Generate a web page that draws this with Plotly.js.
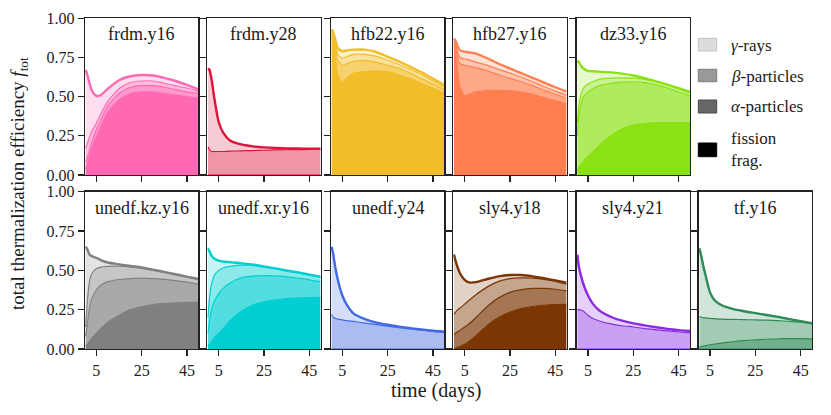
<!DOCTYPE html>
<html><head><meta charset="utf-8">
<script src="https://cdn.plot.ly/plotly-3.0.1.min.js"></script>
<style>html,body{margin:0;padding:0;background:#fff}#chart{width:831px;height:415px}</style>
</head><body><div id="chart"></div>
<script>
// time grid (days)
const times = [0.3, 1, 2, 3, 5, 7, 10, 15, 20, 25, 30, 35, 40, 45, 50];

// cumulative boundaries per model: [fission top, alpha top, beta top, total]
const frdm_y16 = [
  [0.04, 0.07, 0.12, 0.17, 0.245, 0.31, 0.40, 0.48, 0.52, 0.53, 0.53, 0.52, 0.51, 0.50, 0.49],
  [0.08, 0.11, 0.16, 0.21, 0.29, 0.35, 0.44, 0.52, 0.56, 0.57, 0.57, 0.56, 0.545, 0.53, 0.52],
  [0.17, 0.20, 0.24, 0.28, 0.33, 0.39, 0.47, 0.55, 0.59, 0.60, 0.60, 0.585, 0.57, 0.555, 0.535],
  [0.67, 0.64, 0.585, 0.54, 0.505, 0.51, 0.55, 0.605, 0.63, 0.638, 0.635, 0.62, 0.60, 0.575, 0.547]
];
const frdm_y28 = [
  [0, 0, 0, 0, 0, 0, 0, 0, 0, 0, 0, 0, 0, 0, 0],
  [0, 0, 0, 0, 0, 0, 0, 0, 0, 0, 0, 0, 0, 0, 0],
  [0.18, 0.16, 0.15, 0.15, 0.15, 0.15, 0.152, 0.154, 0.156, 0.158, 0.16, 0.161, 0.162, 0.163, 0.165],
  [0.68, 0.67, 0.60, 0.50, 0.34, 0.27, 0.22, 0.195, 0.183, 0.176, 0.172, 0.17, 0.169, 0.168, 0.168]
];
const hfb22_y16 = [
  [0.88, 0.84, 0.74, 0.64, 0.59, 0.62, 0.65, 0.66, 0.665, 0.66, 0.64, 0.615, 0.585, 0.555, 0.525],
  [0.90, 0.87, 0.80, 0.73, 0.70, 0.71, 0.725, 0.73, 0.72, 0.70, 0.68, 0.65, 0.615, 0.58, 0.545],
  [0.915, 0.89, 0.83, 0.77, 0.745, 0.755, 0.77, 0.77, 0.757, 0.732, 0.705, 0.675, 0.64, 0.60, 0.56],
  [0.93, 0.91, 0.86, 0.81, 0.79, 0.795, 0.80, 0.80, 0.785, 0.755, 0.725, 0.69, 0.655, 0.615, 0.574]
];
const hfb27_y16 = [
  [0.83, 0.78, 0.66, 0.56, 0.505, 0.515, 0.53, 0.54, 0.54, 0.538, 0.53, 0.515, 0.495, 0.475, 0.455],
  [0.84, 0.81, 0.75, 0.71, 0.70, 0.695, 0.685, 0.665, 0.64, 0.617, 0.595, 0.57, 0.54, 0.515, 0.49],
  [0.85, 0.83, 0.78, 0.75, 0.74, 0.735, 0.72, 0.70, 0.675, 0.65, 0.625, 0.595, 0.565, 0.535, 0.51],
  [0.87, 0.855, 0.82, 0.795, 0.787, 0.782, 0.775, 0.745, 0.71, 0.68, 0.65, 0.62, 0.59, 0.56, 0.532]
];
const dz33_y16 = [
  [0.03, 0.05, 0.07, 0.09, 0.12, 0.145, 0.19, 0.25, 0.295, 0.32, 0.33, 0.334, 0.335, 0.335, 0.335],
  [0.25, 0.38, 0.46, 0.50, 0.53, 0.55, 0.57, 0.585, 0.593, 0.595, 0.59, 0.575, 0.555, 0.53, 0.505],
  [0.33, 0.45, 0.52, 0.555, 0.58, 0.595, 0.61, 0.618, 0.62, 0.618, 0.61, 0.595, 0.575, 0.55, 0.522],
  [0.73, 0.72, 0.695, 0.68, 0.665, 0.662, 0.66, 0.655, 0.647, 0.635, 0.618, 0.598, 0.577, 0.555, 0.532]
];
const unedf_kz_y16 = [
  [0.02, 0.03, 0.05, 0.07, 0.10, 0.13, 0.17, 0.215, 0.25, 0.27, 0.283, 0.29, 0.294, 0.296, 0.297],
  [0.08, 0.16, 0.26, 0.32, 0.375, 0.405, 0.428, 0.442, 0.448, 0.45, 0.448, 0.443, 0.435, 0.425, 0.413],
  [0.14, 0.30, 0.43, 0.48, 0.51, 0.52, 0.525, 0.527, 0.522, 0.513, 0.50, 0.487, 0.472, 0.457, 0.442],
  [0.65, 0.635, 0.60, 0.59, 0.58, 0.565, 0.55, 0.538, 0.528, 0.519, 0.505, 0.49, 0.475, 0.46, 0.445]
];
const unedf_xr_y16 = [
  [0.02, 0.03, 0.05, 0.07, 0.10, 0.13, 0.18, 0.24, 0.28, 0.30, 0.313, 0.32, 0.325, 0.327, 0.328],
  [0.10, 0.18, 0.26, 0.30, 0.35, 0.385, 0.42, 0.452, 0.463, 0.466, 0.465, 0.46, 0.45, 0.44, 0.428],
  [0.20, 0.33, 0.42, 0.465, 0.50, 0.515, 0.525, 0.533, 0.532, 0.52, 0.51, 0.495, 0.483, 0.47, 0.455],
  [0.64, 0.62, 0.59, 0.575, 0.562, 0.556, 0.552, 0.545, 0.537, 0.525, 0.513, 0.50, 0.487, 0.473, 0.46]
];
const unedf_y24 = [
  [0, 0, 0, 0, 0, 0, 0, 0, 0, 0, 0, 0, 0, 0, 0],
  [0, 0, 0, 0, 0, 0, 0, 0, 0, 0, 0, 0, 0, 0, 0],
  [0.22, 0.20, 0.195, 0.19, 0.185, 0.18, 0.175, 0.165, 0.155, 0.145, 0.135, 0.127, 0.12, 0.112, 0.106],
  [0.65, 0.60, 0.51, 0.44, 0.34, 0.28, 0.225, 0.19, 0.168, 0.154, 0.142, 0.132, 0.124, 0.116, 0.11]
];
const sly4_y18 = [
  [0.0, 0.005, 0.01, 0.015, 0.03, 0.05, 0.085, 0.15, 0.20, 0.235, 0.257, 0.27, 0.278, 0.282, 0.284],
  [0.09, 0.10, 0.11, 0.12, 0.14, 0.16, 0.20, 0.27, 0.325, 0.36, 0.377, 0.385, 0.385, 0.38, 0.37],
  [0.22, 0.235, 0.25, 0.26, 0.285, 0.31, 0.345, 0.395, 0.43, 0.447, 0.452, 0.45, 0.443, 0.43, 0.412],
  [0.60, 0.56, 0.515, 0.48, 0.44, 0.423, 0.425, 0.445, 0.462, 0.47, 0.47, 0.462, 0.45, 0.436, 0.422]
];
const sly4_y21 = [
  [0, 0, 0, 0, 0, 0, 0, 0, 0, 0, 0, 0, 0, 0, 0],
  [0, 0, 0, 0, 0, 0, 0, 0, 0, 0, 0, 0, 0, 0, 0],
  [0.25, 0.25, 0.248, 0.24, 0.215, 0.195, 0.178, 0.16, 0.148, 0.14, 0.13, 0.122, 0.115, 0.108, 0.102],
  [0.60, 0.52, 0.46, 0.41, 0.34, 0.29, 0.245, 0.205, 0.18, 0.163, 0.15, 0.138, 0.128, 0.12, 0.114]
];
const tf_y16 = [
  [0, 0, 0, 0, 0, 0, 0, 0, 0, 0, 0, 0, 0, 0, 0],
  [0.012, 0.015, 0.018, 0.021, 0.026, 0.031, 0.037, 0.046, 0.053, 0.058, 0.062, 0.065, 0.066, 0.066, 0.065],
  [0.205, 0.203, 0.20, 0.198, 0.195, 0.193, 0.19, 0.188, 0.187, 0.185, 0.183, 0.18, 0.176, 0.17, 0.16],
  [0.64, 0.60, 0.53, 0.47, 0.36, 0.31, 0.28, 0.255, 0.24, 0.228, 0.216, 0.204, 0.19, 0.177, 0.164]
];

const panelNames = ['frdm.y16','frdm.y28','hfb22.y16','hfb27.y16','dz33.y16',
  'unedf.kz.y16','unedf.xr.y16','unedf.y24','sly4.y18','sly4.y21','tf.y16'];
const panelData = [frdm_y16, frdm_y28, hfb22_y16, hfb27_y16, dz33_y16,
  unedf_kz_y16, unedf_xr_y16, unedf_y24, sly4_y18, sly4_y21, tf_y16];
const panelColors = [[255,105,180],[220,20,60],[241,189,40],[255,127,80],[138,226,20],
  [128,128,128],[0,206,209],[65,105,225],[123,54,3],[138,43,226],[46,139,87]];
const legendLabels = ['<i>γ</i>-rays','<i>β</i>-particles','<i>α</i>-particles','fission<br>frag.'];
const xTicks = [5, 25, 45];
const yTicks = [0, 0.25, 0.5, 0.75, 1];
const yTickText = ['0.00','0.25','0.50','0.75','1.00'];

const layerAlpha = [1.0, 0.68, 0.45, 0.22];
const W = 831, H = 415;
const FONT = '"Liberation Serif", "Times New Roman", serif';
const colLeft = [85, 207.3, 331, 453.3, 576.7, 698.7];
const pw = 113.3;
const rows = [[18.3, 175], [191.7, 349]];

function blend(c, a){
  return 'rgb(' + c.map(v => Math.round(255 - a*(255 - v))).join(',') + ')';
}

const traces = [];
const layout = {
  width: W, height: H, margin: {l:0, r:0, t:0, b:0},
  paper_bgcolor: '#fff', plot_bgcolor: '#fff', showlegend: false,
  annotations: [], shapes: []
};

panelNames.forEach((name, i) => {
  const row = i < 5 ? 0 : 1;
  const col = i < 5 ? i : i - 5;
  const k = i + 1;
  const ax = k === 1 ? '' : String(k);
  const c = panelColors[i];
  const base = 'rgb(' + c.join(',') + ')';
  const left = colLeft[col];
  const [top, bot] = rows[row];
  layout['xaxis' + ax] = {
    domain: [left / W, (left + pw) / W], anchor: 'y' + ax, range: [0, 50],
    tickvals: xTicks, ticks: 'outside', ticklen: 6, tickwidth: 1.2, tickcolor: '#222',
    showline: true, mirror: true, linecolor: '#222', linewidth: 1.4,
    showgrid: false, zeroline: false, showticklabels: row === 1,
    tickfont: {family: FONT, size: 16, color: '#222'}
  };
  layout['yaxis' + ax] = {
    domain: [1 - bot / H, 1 - top / H], anchor: 'x' + ax, range: [0, 1],
    tickvals: yTicks, ticktext: yTickText, ticks: 'outside', ticklen: 6, tickwidth: 1.2,
    tickcolor: '#222', showline: true, mirror: true, linecolor: '#222', linewidth: 1.4,
    showgrid: false, zeroline: false, showticklabels: col === 0,
    tickfont: {family: FONT, size: 16, color: '#222'}
  };
  const d = panelData[i];
  for (let j = 0; j < 4; j++) {
    traces.push({
      type: 'scatter', mode: 'lines', x: times, y: d[j],
      xaxis: 'x' + ax, yaxis: 'y' + ax,
      fill: j === 0 ? 'tozeroy' : 'tonexty', fillcolor: blend(c, layerAlpha[j]),
      line: {color: base, width: j === 3 ? 2.4 : 1.2, shape: 'spline', smoothing: 0.6},
      hoverinfo: 'skip', showlegend: false
    });
  }
  layout.annotations.push({
    xref: 'paper', yref: 'paper', x: (left + pw / 2) / W, y: 1 - (row === 0 ? 34 : 208) / H,
    text: name, showarrow: false, xanchor: 'center', yanchor: 'middle',
    font: {family: FONT, size: 18, color: '#1a1a1a'}
  });
});

// axis titles
layout.annotations.push({
  xref: 'paper', yref: 'paper', x: 436 / W, y: 1 - 390 / H, text: 'time (days)',
  showarrow: false, xanchor: 'center', yanchor: 'middle',
  font: {family: FONT, size: 20, color: '#1a1a1a'}
});
layout.annotations.push({
  xref: 'paper', yref: 'paper', x: 19 / W, y: 1 - 184 / H,
  text: 'total thermalization efficiency <i>f</i><sub>tot</sub>', textangle: -90,
  showarrow: false, xanchor: 'center', yanchor: 'middle',
  font: {family: FONT, size: 19, color: '#1a1a1a'}
});

// legend
const legFill = ['#dcdcdc', '#999999', '#666666', '#000000'];
const legEdge = ['#c4c4c4', '#7a7a7a', '#4a4a4a', '#000000'];
const legY = [[38.3, 51], [69.3, 81.7], [100, 113], [143, 156.7]];
const legTextY = [45, 76, 107, 149];
legendLabels.forEach((lab, j) => {
  layout.shapes.push({
    type: 'rect', xref: 'paper', yref: 'paper',
    x0: 698.3 / W, x1: 716.7 / W, y0: 1 - legY[j][1] / H, y1: 1 - legY[j][0] / H,
    fillcolor: legFill[j], line: {color: legEdge[j], width: 1}
  });
  layout.annotations.push({
    xref: 'paper', yref: 'paper', x: 729 / W, y: 1 - legTextY[j] / H, text: lab,
    showarrow: false, xanchor: 'left', yanchor: 'middle', align: 'left',
    font: {family: FONT, size: 17, color: '#1a1a1a'}
  });
});

Plotly.newPlot('chart', traces, layout, {staticPlot: true, displayModeBar: false});
</script></body></html>
